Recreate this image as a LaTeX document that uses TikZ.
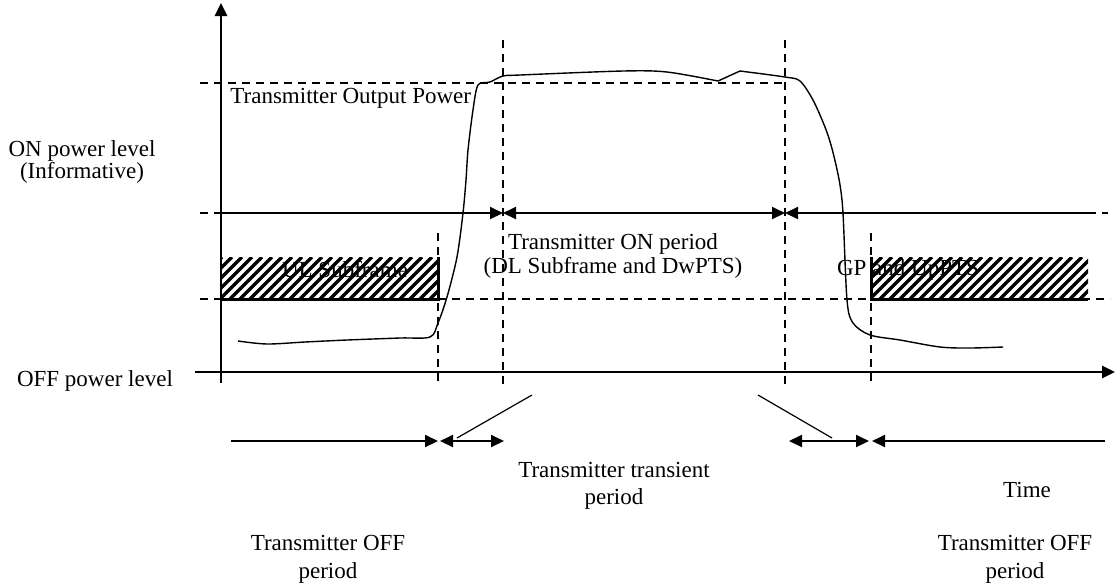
\documentclass[tikz,border=0pt]{standalone}
\usepackage{fontspec}
\setmainfont{Liberation Serif}
\usetikzlibrary{arrows.meta}

\begin{document}
\begin{tikzpicture}[x=0.5pt, y=-0.5pt, >={Triangle[length=6.5pt, width=6pt]},
	axisline/.style={line width=1.3pt},
	dashline/.style={dash pattern=on 4pt off 3pt, line width=0.75pt},
	levelline/.style={line width=1pt},
	spanline/.style={line width=1pt},
	hatchline/.style={line width=1.7pt},
	edgeline/.style={line width=1.5pt},
	lbl/.style={inner sep=0pt, align=center, font=\fontsize{11.5}{13.5}\selectfont}]
	\useasboundingbox (0,0) rectangle (1115,586);
	\coordinate (ytop) at (221,3);
	\coordinate (ybot) at (221,383);
	\coordinate (xleft) at (195,372);
	\coordinate (xright) at (1115,372);
	\coordinate (pw-l) at (200,83);
	\coordinate (pw-r) at (785,83);
	\coordinate (on-d) at (200,213);
	\coordinate (on-a) at (221,213);
	\coordinate (on-b) at (503,213);
	\coordinate (on-c) at (785,213);
	\coordinate (on-e) at (1088,213);
	\coordinate (on-f) at (1108,213);
	\coordinate (lo-l) at (200,299);
	\coordinate (lo-r) at (1110,299);
	\coordinate (v1-t) at (438,233);
	\coordinate (v1-b) at (438,385);
	\coordinate (v2-t) at (503,40);
	\coordinate (v2-b) at (503,385);
	\coordinate (v3-t) at (785,40);
	\coordinate (v3-b) at (785,385);
	\coordinate (v4-t) at (871,233);
	\coordinate (v4-b) at (871,385);
	\coordinate (bt-a) at (231,441);
	\coordinate (bt-b) at (438,441);
	\coordinate (bt-c) at (440,441);
	\coordinate (bt-d) at (504,441);
	\coordinate (bt-e) at (789,441);
	\coordinate (bt-f) at (869,441);
	\coordinate (bt-g) at (872,441);
	\coordinate (bt-h) at (1105,441);
	\coordinate (ld1-a) at (532,395);
	\coordinate (ld1-b) at (457,438);
	\coordinate (ld2-a) at (758,395);
	\coordinate (ld2-b) at (832,438);

	\begin{scope}
		\clip (221,257) rectangle (438,299);
		\foreach \i in {160,170,...,440}
			\draw[hatchline] (\i,299) -- (\i+42,257);
	\end{scope}
	\begin{scope}
		\clip (871,257) rectangle (1088,299);
		\foreach \i in {810,820,...,1090}
			\draw[hatchline] (\i,299) -- (\i+42,257);
	\end{scope}
	\draw[edgeline] (221,299) -- (438,299) -- (438,257);
	\draw[edgeline] (871,257) -- (871,299) -- (1088,299);

	\draw[dashline] (pw-l) -- (pw-r);
	\draw[dashline] (lo-l) -- (lo-r);
	\draw[dashline] (on-d) -- (on-a);
	\draw[dashline] (on-e) -- (on-f);
	\draw[dashline] (v1-t) -- (v1-b);
	\draw[dashline] (v2-t) -- (v2-b);
	\draw[dashline] (v3-t) -- (v3-b);
	\draw[dashline] (v4-t) -- (v4-b);

	\draw[axisline, ->] (ybot) -- (ytop);
	\draw[axisline, ->] (xleft) -- (xright);

	\draw[levelline, ->] (on-a) -- (on-b);
	\draw[levelline, <->] (on-b) -- (on-c);
	\draw[levelline, <-] (on-c) -- (on-e);

	\draw[spanline, ->] (bt-a) -- (bt-b);
	\draw[spanline, <->] (bt-c) -- (bt-d);
	\draw[spanline, <->] (bt-e) -- (bt-f);
	\draw[spanline, <-] (bt-g) -- (bt-h);
	\draw[line width=0.6pt] (ld1-a) -- (ld1-b);
	\draw[line width=0.6pt] (ld2-a) -- (ld2-b);

	\draw[line width=0.7pt] plot[smooth, tension=0.5] coordinates {(238,341) (267,344) (305,342) (347,340) (400,338) (430,337) (438,323) (447,297) (457,257) (463,213) (466,180) (468,150) (473,110) (478,85) (490,82) (503,76) (520,75) (623,71) (667,72) (718,81)}
		-- plot[smooth, tension=0.5] coordinates {(740,71) (785,77) (800,81) (813,100) (825,127) (831,145) (836,165) (840,185) (843,213) (847,300) (853,323) (870,335) (900,340) (940,347) (970,348) (1003,347)};

	\node[lbl] (onlevel) at (82,162) {ON power level\\[-2.5pt](Informative)};
	\node[lbl] (offlevel) at (95,381) {OFF power level};
	\node[lbl, anchor=west] (outpower) at (230,98) {Transmitter Output Power};
	\node[lbl] (onperiod) at (613,256) {Transmitter ON period\\[-1.5pt](DL Subframe and DwPTS)};
	\node[lbl] (ulsub) at (345,270) {UL Subframe};
	\node[lbl] (gpup) at (908,270) {GP and UpPTS};
	\node[lbl] (transient) at (614,486) {Transmitter transient\\period};
	\node[lbl] (time) at (1027,490) {Time};
	\node[lbl] (offleft) at (328,559) {Transmitter OFF\\[0.5pt]period};
	\node[lbl] (offright) at (1015,559) {Transmitter OFF\\[0.5pt]period};
\end{tikzpicture}
\end{document}
